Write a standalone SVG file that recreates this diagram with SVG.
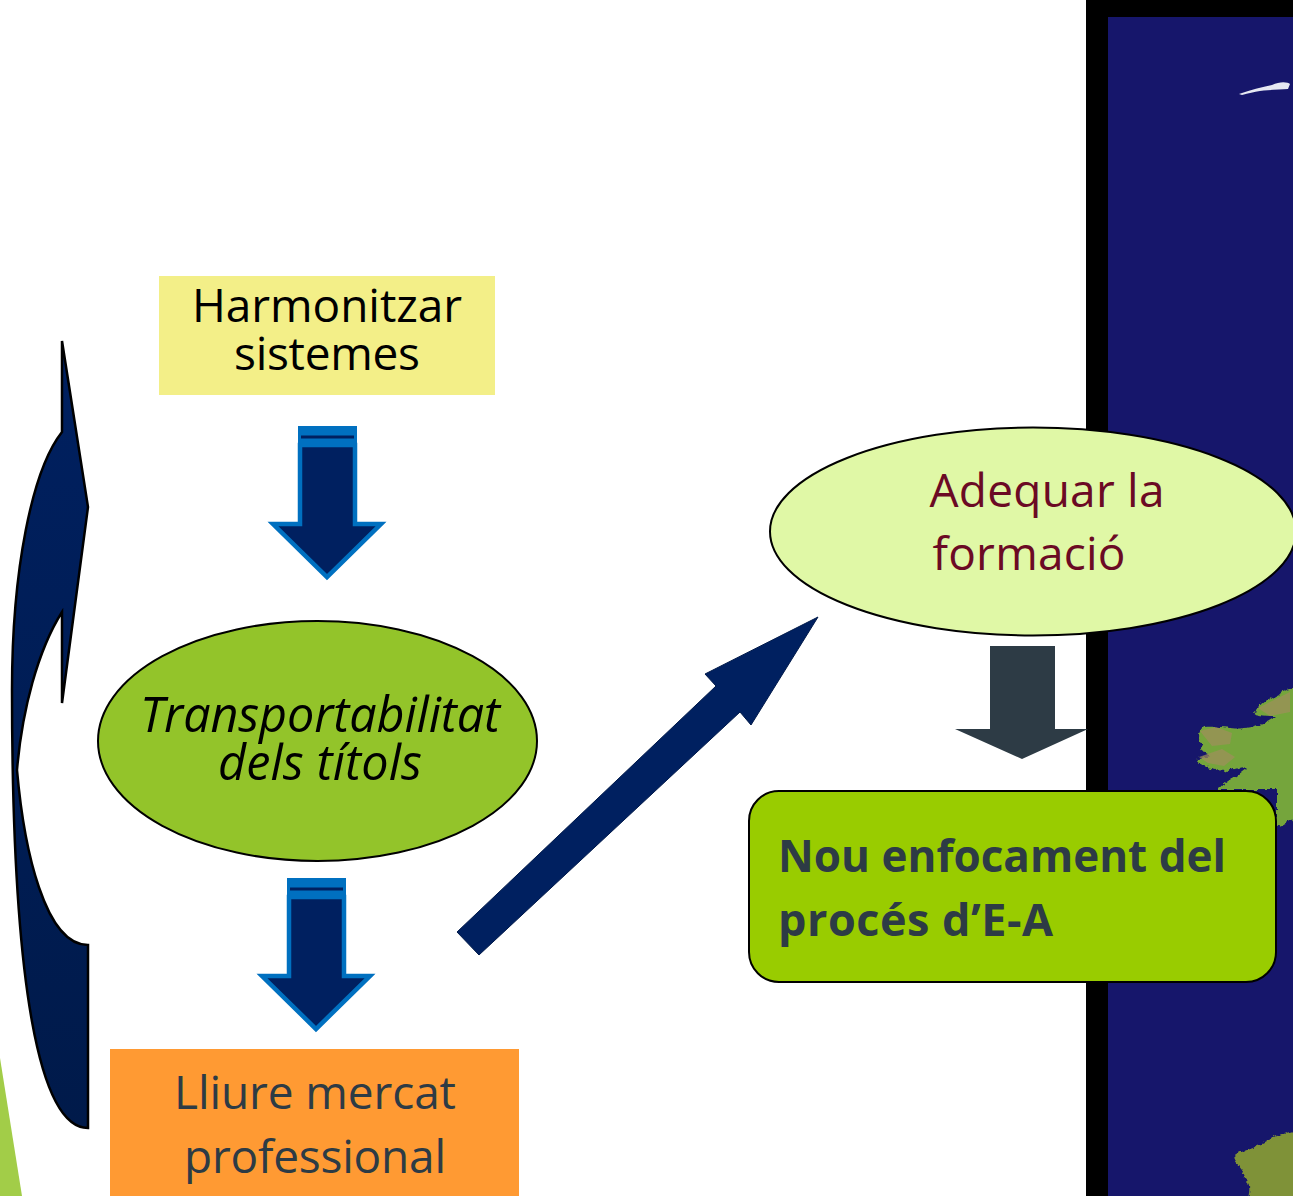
<svg xmlns="http://www.w3.org/2000/svg" width="1293" height="1196" viewBox="0 0 1293 1196">
<style>
text{font-family:"Open Sans","Noto Sans","Liberation Sans",sans-serif;text-anchor:middle;font-size:46px}
.dk{fill:#2d3b45}
.mar{fill:#6b0a24}
.land{filter:url(#rough)}
.bold{font-weight:700;text-anchor:start}
</style>
<defs>
<linearGradient id="curveG" x1="0" y1="0" x2="0" y2="1"><stop offset="0" stop-color="#002060"/><stop offset="1" stop-color="#001a4a"/></linearGradient>
<filter id="rough" x="-10%" y="-10%" width="120%" height="120%" color-interpolation-filters="sRGB">
<feTurbulence type="fractalNoise" baseFrequency=".14" numOctaves="3" seed="4" result="n"/>
<feDisplacementMap in="SourceGraphic" in2="n" scale="8" xChannelSelector="R" yChannelSelector="G" result="d"/>
<feGaussianBlur in="d" stdDeviation=".7"/>
</filter>
<filter id="soft"><feGaussianBlur stdDeviation=".7"/></filter>
</defs>
<rect width="1293" height="1196" fill="#fff"/>
<g id="map">
<rect x="1086" y="0" width="207" height="1196" fill="#000"/>
<rect x="1108" y="17" width="185" height="1179" fill="#16166b"/>
<path d="M1239 94C1250 90 1262 87 1272 85C1280 81 1288 82 1290 84L1288 89C1278 90 1262 89 1242 95Z" fill="#e6e8f2" filter="url(#soft)"/>
<path class="land" fill="#75a53c" d="M1310 685C1285 688 1268 698 1258 708L1254 714C1262 716 1270 716 1276 716C1268 722 1255 728 1243 728C1234 730 1226 726 1204 727C1198 732 1197 740 1203 746C1198 750 1204 752 1212 756C1206 758 1198 756 1197 760C1202 768 1214 765 1226 772C1238 768 1246 766 1246 768C1236 776 1226 782 1216 790L1277 790V826L1310 815Z"/>
<path d="M1200 731L1216 727L1232 733L1230 744L1212 746Z M1199 757L1222 749L1235 757L1224 766L1208 763Z M1258 708L1290 692V712L1270 716Z" fill="#a08f5c" opacity=".7" filter="url(#soft)"/>
<path class="land" fill="#7f9238" d="M1310 1128C1280 1132 1272 1140 1260 1145C1250 1150 1238 1152 1234 1158C1236 1165 1244 1170 1246 1178C1250 1184 1250 1190 1248 1200H1310Z"/>
</g>
<g id="corner"><path d="M0 1058L22 1196H0Z" fill="#a2cd48"/></g>
<g id="connectors">
<path d="M62 341L88 507L62 703V612C38 650 22 710 17 770C24 850 45 945 88 945V1128C40 1128 12 990 12 690C12 570 32 470 62 432Z" fill="url(#curveG)" stroke="#000" stroke-width="2.500"/>
<g>
<rect x="298" y="426" width="59" height="21" fill="#0070c0"/>
<path d="M301 437H354" stroke="#002060" stroke-width="3"/>
<path d="M300 445H355V524H381L327 577L273 524H300Z" fill="#002060" stroke="#0070c0" stroke-width="4.500"/>
</g>
<g>
<rect x="287" y="878" width="59" height="21" fill="#0070c0"/>
<path d="M290 889H343" stroke="#002060" stroke-width="3"/>
<path d="M289 897H344V976H370L316 1029L262 976H289Z" fill="#002060" stroke="#0070c0" stroke-width="4.500"/>
</g>
<path d="M457 932L716 686L705 674L818 617L751 725L740 712L479 955Z" fill="#002060" stroke="#001a4a" stroke-width="1"/>
<path d="M990 646H1055V729H1088L1022 759L955 729H990Z" fill="#2d3b45"/>
</g>
<g id="harmonitzar">
<rect x="159" y="276" width="336" height="119" fill="#f3ef88"/>
<text x="327" y="322" textLength="270">Harmonitzar</text>
<text x="327" y="370" textLength="186">sistemes</text>
</g>
<g id="transportabilitat">
<ellipse cx="317.500" cy="741" rx="219.500" ry="120" fill="#93c42a" stroke="#000" stroke-width="2"/>
<text x="320" y="732" font-style="italic" style="font-size:48.500px" textLength="360">Transportabilitat</text>
<text x="320" y="780" font-style="italic" style="font-size:48.500px" textLength="204">dels títols</text>
</g>
<g id="lliure">
<rect x="110" y="1049" width="409" height="147" fill="#ff9a33"/>
<text class="dk" x="315" y="1109" textLength="282">Lliure mercat</text>
<text class="dk" x="315" y="1173" textLength="262">professional</text>
</g>
<g id="adequar">
<ellipse cx="1033" cy="531.500" rx="263" ry="104" fill="#e0f8a6" stroke="#000" stroke-width="2"/>
<text class="mar" x="1047" y="507" textLength="235">Adequar la</text>
<text class="mar" x="1029" y="570" textLength="193">formació</text>
</g>
<g id="nou">
<rect x="749" y="791" width="527" height="191" rx="30" fill="#99cc00" stroke="#000" stroke-width="2"/>
<text class="dk bold" x="778" y="872" style="font-size:44px" textLength="448">Nou enfocament del</text>
<text class="dk bold" x="778" y="936" style="font-size:45px" textLength="275">procés d’E-A</text>
</g>
</svg>
